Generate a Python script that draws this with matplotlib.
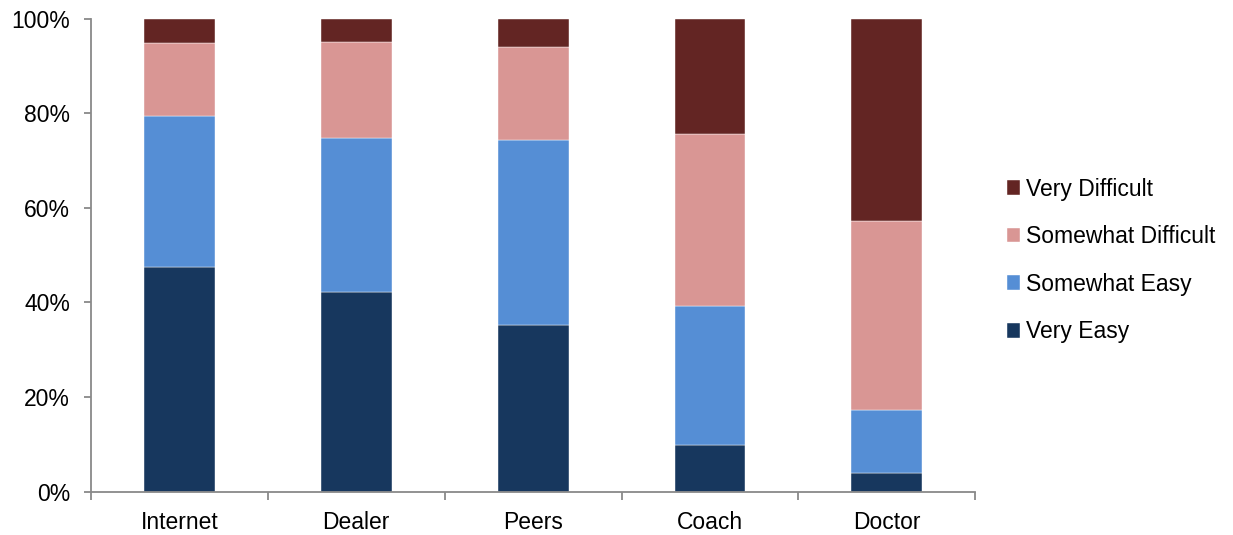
import numpy as np
from matplotlib import pyplot as plt
from matplotlib.ticker import PercentFormatter, FixedLocator

plt.rcParams['font.family'] = ['Liberation Sans', 'DejaVu Sans']

categories = ["Internet", "Dealer", "Peers", "Coach", "Doctor"]
very_easy = [47.4, 42.3, 35.2, 9.9, 3.9]
somewhat_easy = [32.0, 32.4, 39.1, 29.4, 13.3]
somewhat_difficult = [15.5, 20.3, 19.7, 36.4, 40.0]
very_difficult = [5.1, 5.0, 6.0, 24.3, 42.8]

series = (
    ("Very Easy", very_easy, "#17375E"),
    ("Somewhat Easy", somewhat_easy, "#558ED5"),
    ("Somewhat Difficult", somewhat_difficult, "#D99694"),
    ("Very Difficult", very_difficult, "#632523"),
)

fs = 16.5

fig = plt.figure(figsize=(12.33, 5.35), dpi=100)
ax = fig.add_axes([0.0738, 0.081, 0.7172, 0.884])

x = np.arange(len(categories))
bottom = np.zeros(len(categories))
handles = []
for name, vals, color in series:
    b = ax.bar(x, vals, 0.4, bottom=bottom, color=color, label=name,
               edgecolor="white", linewidth=0.3)
    handles.append(b)
    bottom += np.array(vals)

ax.set_xlim(-0.5, len(categories) - 0.5)
ax.set_ylim(0, 100)
ax.set_yticks(np.arange(0, 101, 20))
ax.yaxis.set_major_formatter(PercentFormatter(decimals=0))

# category labels without ticks, separator ticks between categories
ax.set_xticks(x)
ax.set_xticklabels(categories)
ax.xaxis.set_minor_locator(FixedLocator(np.arange(-0.5, len(categories), 1.0)))
ax.tick_params(axis="x", which="major", length=0, pad=14, labelsize=fs)
ax.tick_params(axis="x", which="minor", length=6, color="#898989", width=1.3)
ax.tick_params(axis="y", length=5, color="#898989", width=1.3, pad=10, labelsize=fs)

for side in ("top", "right"):
    ax.spines[side].set_visible(False)
for side in ("left", "bottom"):
    ax.spines[side].set_color("#898989")
    ax.spines[side].set_linewidth(1.3)

ax.legend(handles[::-1], [s[0] for s in series][::-1], loc="center left",
          bbox_to_anchor=(0.809, 0.513), bbox_transform=fig.transFigure,
          frameon=False, fontsize=fs, handlelength=0.6, handleheight=0.6,
          handletextpad=0.25, labelspacing=1.07, borderaxespad=0)

fig.savefig("out.png", dpi=100)
